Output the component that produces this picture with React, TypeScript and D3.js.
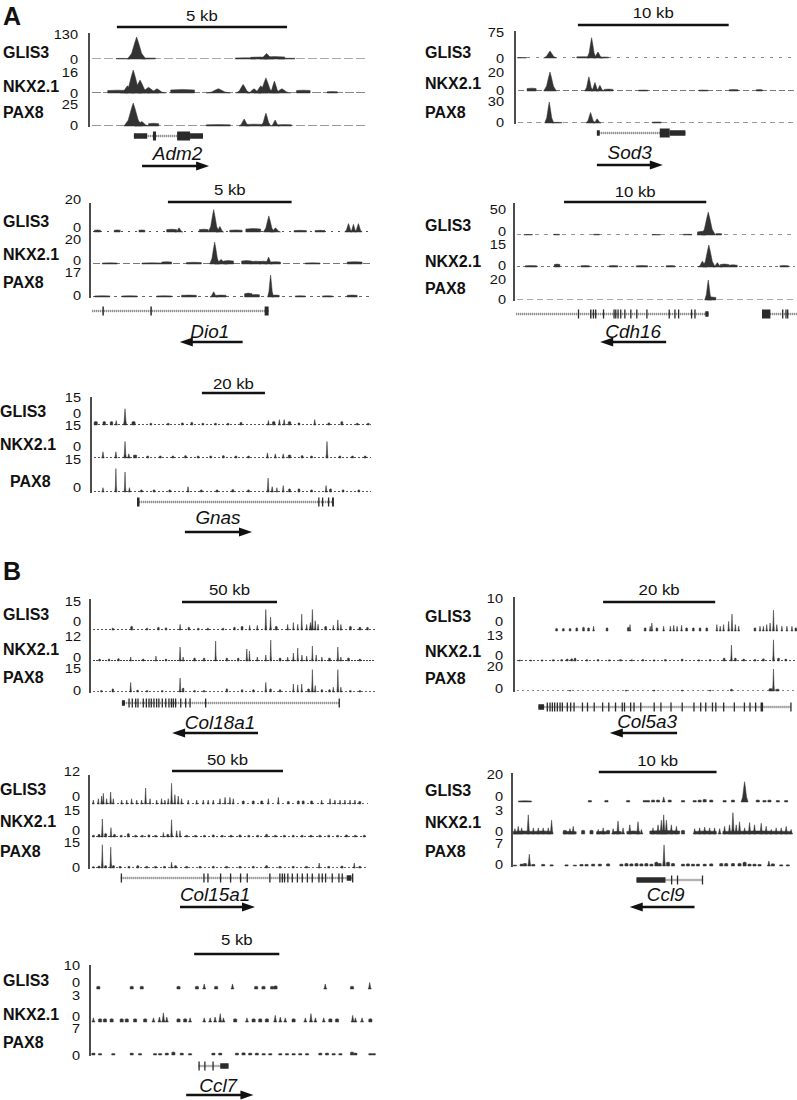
import React from "react";
import * as d3 from "d3";

type Peak = number[]; // [kb, value, halfWidthKb?]
type Exon = number[]; // [startKb, endKb, kind]

const TRACK_NAMES = ["GLIS3", "NKX2.1", "PAX8"];

// ---------------- Adm2 ----------------
const adm2Length = 8.2;
const adm2Max = [130, 16, 25];
const adm2Bar = [0.82, 5];
const adm2Glis3: Peak[] = [[1.0,3,0.2],[1.4,110,0.27],[1.75,5,0.2],[4.6,6,0.3],[5.0,10,0.25],[5.22,28,0.2],[5.45,12,0.3],[5.8,4,0.25]];
const adm2Nkx21: Peak[] = [[0.85,2,0.3],[1.13,5,0.2],[1.3,16,0.25],[1.5,9,0.25],[1.75,4,0.3],[2.0,3,0.25],[2.75,2.5,0.35],[3.8,3,0.35],[4.53,6,0.2],[4.85,3,0.2],[5.05,5,0.2],[5.2,10.5,0.22],[5.45,8.3,0.15],[5.67,3,0.25],[6.3,2,0.2],[7.15,1,0.15]];
const adm2Pax8: Peak[] = [[1.3,25,0.27],[1.55,5,0.2],[1.9,3,0.15],[3.8,1.5,0.35],[4.56,7.6,0.15],[4.85,2,0.25],[5.2,14,0.15],[5.47,6.5,0.12],[5.75,1.5,0.2]];
const adm2Gene = [1.32, 3.35];
const adm2Exons: Exon[] = [[1.32,1.71,1],[1.88,1.97,2],[2.59,2.97,2],[2.97,3.35,1]];
const adm2Arrow = [1.56, 3.53];
const adm2NameAt = 2.6;

// ---------------- Sod3 ----------------
const sod3Length = 18.7;
const sod3Max = [75, 20, 30];
const sod3Bar = [4.17, 10];
const sod3Glis3: Peak[] = [[0.46,1.5,0.3],[2.32,21,0.42],[4.5,4,0.4],[5.08,61,0.3],[5.5,18,0.3],[5.9,3,0.3]];
const sod3Nkx21: Peak[] = [[1.1,3,0.3],[2.32,20,0.42],[4.9,15,0.28],[5.3,9,0.25],[5.63,6,0.25],[6.2,2,0.3],[8.5,1,0.3],[12.5,1,0.3],[14.5,1.5,0.3],[16.2,1.5,0.2]];
const sod3Pax8: Peak[] = [[2.27,30,0.3],[2.8,1,0.3],[5.01,15,0.3],[5.45,6,0.25],[9.4,1.5,0.3]];
const sod3Gene = [5.43, 11.3];
const sod3Exons: Exon[] = [[5.43,5.62,1],[9.6,10.26,2],[10.26,11.3,1]];
const sod3Arrow = [5.43, 9.8];
const sod3NameAt = 7.6;

// ---------------- Dio1 ----------------
const dio1Length = 11.4;
const dio1Max = [20, 20, 17];
const dio1Bar = [3.15, 5];
const dio1Glis3: Peak[] = [[0.3,1.5,0.12],[1.1,1.5,0.12],[2.1,1.5,0.12],[3.3,2,0.2],[3.6,3,0.15],[4.6,2,0.18],[5.0,16,0.22],[5.25,4,0.15],[5.9,1.5,0.25],[6.6,2.5,0.3],[7.23,11.5,0.22],[7.5,3,0.2],[8.5,1.2,0.25],[9.3,1.2,0.2],[10.45,6,0.15],[10.65,5.5,0.12],[10.85,6,0.15]];
const dio1Nkx21: Peak[] = [[0.8,1,0.3],[2.5,1,0.4],[3.1,2,0.2],[4.2,1.5,0.3],[5.04,19,0.2],[5.3,4,0.25],[5.6,3,0.2],[6.33,3,0.2],[6.7,2.5,0.2],[7.0,2.5,0.15],[7.22,6,0.15],[7.5,2,0.2],[9.0,1,0.3],[10.7,2,0.3]];
const dio1Pax8: Peak[] = [[0.5,1,0.3],[1.6,1,0.3],[3.0,1,0.3],[4.0,1.5,0.3],[5.0,4,0.15],[5.3,1.5,0.2],[6.4,3,0.15],[6.7,2,0.15],[7.3,17,0.12],[7.5,1.5,0.15],[8.5,1,0.2],[9.6,1,0.2],[10.6,1.5,0.2]];
const dio1Gene = [0.08, 7.22];
const dio1Exons: Exon[] = [[0.5,0.56,2],[2.44,2.5,2],[7.06,7.22,2]];
const dio1Arrow = [6.17, 3.63];
const dio1NameAt = 4.84;

// ---------------- Cdh16 ----------------
const cdh16Length = 19.9;
const cdh16Max = [50, 15, 20];
const cdh16Bar = [3.52, 10];
const cdh16Glis3: Peak[] = [[1.0,1,0.3],[3.0,1.5,0.2],[5.8,1.5,0.2],[10.0,1,0.3],[12.2,1.5,0.3],[13.2,7,0.3],[13.66,44,0.5],[14.4,3,0.2]];
const cdh16Nkx21: Peak[] = [[1.2,1,0.4],[3.03,2,0.2],[5.0,1,0.3],[7.0,1,0.3],[9.0,1,0.4],[11.0,1,0.3],[13.25,4,0.3],[13.7,15,0.45],[14.3,3,0.3],[14.8,2,0.3],[15.4,1.5,0.3],[19.0,1,0.3]];
const cdh16Pax8: Peak[] = [[13.66,20,0.25],[13.9,3,0.3]];
const cdh16Gene = [0.14, 13.68];
const cdh16Exons: Exon[] = [[4.49,4.55,2],[5.35,5.45,2],[5.54,5.62,2],[5.7,5.76,2],[6.25,6.33,2],[6.99,7.07,2],[7.11,7.19,2],[7.27,7.35,2],[7.46,7.52,2],[7.75,7.8,2],[8.17,8.22,2],[8.59,8.67,2],[9.3,9.38,2],[10.87,10.93,2],[11.27,11.33,2],[11.53,11.6,2],[12.44,12.48,2],[12.68,12.72,2],[13.45,13.68,1]];
const cdh16Gene2 = [17.44, 19.9];
const cdh16Exons2: Exon[] = [[17.44,18.03,2],[18.85,18.93,2],[19.08,19.14,2],[19.2,19.26,2]];
const cdh16Arrow = [10.7, 6.06];
const cdh16NameAt = 8.38;

// ---------------- Gnas ----------------
const gnasLength = 89.5;
const gnasMax = [15, 15, 15];
const gnasBar = [35.2, 20];
const gnasGlis3: Peak[] = [[1.5,2,0.5],[4.2,2,0.4],[6.5,2,0.4],[8.0,2.5,0.4],[10.8,9,0.5],[13.5,2,0.5],[19,1,0.3],[24.5,1,0.3],[29,1.2,0.3],[32,1.5,0.3],[35.5,1,0.3],[39.5,1,0.3],[43.5,1,0.3],[47.6,1.5,0.3],[56.3,2.5,0.4],[58,2,0.4],[59.8,3,0.4],[61.3,3,0.4],[63,2,0.4],[66,1.2,0.3],[71,3,0.4],[75.5,1.2,0.3],[79.6,2,0.3],[84.5,1,0.3],[88,1,0.3]];
const gnasNkx21: Peak[] = [[3.8,3,0.4],[7.9,3,0.4],[10.8,8,0.4],[12,2,0.5],[14,1.5,0.5],[18,1,0.3],[22,1,0.3],[26,1,0.3],[30,1.2,0.3],[34,1,0.3],[38,1,0.3],[42,1.2,0.3],[46,1,0.3],[50,1,0.3],[56,2.5,0.4],[58.5,2,0.4],[61,2,0.4],[63,1.5,0.4],[67,1.2,0.3],[70,1,0.3],[74.9,8,0.35],[79,1,0.3],[83,1,0.3],[87,1,0.3]];
const gnasPax8: Peak[] = [[3.8,2,0.4],[7.9,11,0.3],[10.8,9.4,0.3],[12.2,2,0.4],[16,1,0.3],[20,1,0.3],[25,1,0.3],[30.8,2.5,0.35],[35,1,0.3],[40,1,0.3],[45,1.2,0.3],[50,1,0.3],[56.2,6.5,0.35],[57.5,2.5,0.4],[59,2,0.3],[61,3,0.35],[63,1.5,0.3],[66,1.5,0.3],[70,1,0.3],[74.6,3,0.35],[76,1.5,0.3],[80,1,0.3],[85,1,0.3]];
const gnasGene = [14.6, 77.1];
const gnasExons: Exon[] = [[14.6,15.4,2],[72.1,72.4,2],[73.3,73.6,2],[75.2,75.6,2],[76.5,77.1,2]];
const gnasArrow = [29.8, 51.1];
const gnasNameAt = 40.3;

// ---------------- Col18a1 ----------------
const col18Length = 151;
const col18Max = [15, 12, 15];
const col18Bar = [48.4, 50];
const col18Glis3: Peak[] = [[12,1,0.4],[21.9,2,0.5],[30,1,0.4],[36,1.5,0.4],[40,1.2,0.4],[47.4,3,0.5],[52,1.5,0.4],[57,1,0.4],[62,1,0.4],[70,1,0.4],[76,1.5,0.4],[80,2,0.5],[84,2.5,0.5],[88,2.5,0.5],[92.5,11,0.5],[95,7,0.5],[98,2,0.5],[104,3,0.5],[107,4,0.4],[109.3,3,0.4],[111.4,8.5,0.4],[114,3,0.5],[116,4,0.8],[117,11,0.5],[118.5,5,0.5],[120,3,0.5],[124,2,0.5],[128,2.5,0.5],[130.4,5.4,0.5],[132,3,0.5],[137,2,0.5],[142,1.5,0.5],[146,1.5,0.4]];
const col18Nkx21: Peak[] = [[5,1,0.4],[10,1,0.4],[15,1.2,0.4],[21.4,2,0.5],[28,1,0.4],[34.7,2.5,0.4],[40,1,0.4],[47.4,7,0.5],[49,2,0.5],[55,1.5,0.4],[60,1.5,0.4],[66.1,10,0.4],[72,1.5,0.4],[78,1.5,0.4],[82.5,6,0.5],[83.9,5,0.4],[88,2,0.5],[92.5,3,0.5],[95.1,10.5,0.4],[100,1.5,0.5],[104,2,0.5],[107,4,0.5],[109.3,6.5,0.4],[111.5,3,0.5],[114,2.5,0.5],[117,7.5,0.4],[119,3,0.5],[122,2,0.5],[126,1.5,0.5],[130.4,7,0.5],[132,2,0.5],[136,1.5,0.5],[142,1,0.4]];
const col18Pax8: Peak[] = [[6,1,0.4],[12,2,0.4],[21.4,6,0.5],[25,1.2,0.4],[30,1,0.4],[38,1,0.4],[47.4,8.7,0.5],[49,2.5,0.4],[55,1,0.4],[60,1,0.4],[72,2,0.4],[80,1.5,0.4],[86,1.5,0.4],[92.5,6,0.5],[95,2,0.4],[100,1.5,0.4],[107,5,0.4],[109.3,4.5,0.4],[111.4,5,0.4],[115,2,0.5],[117,14,0.5],[118.5,4,0.5],[122,1.5,0.4],[126,1.5,0.4],[128,3,0.5],[130.4,14,0.5],[132,3,0.5],[137,1,0.4],[142,1,0.4]];
const col18Gene = [16.8, 131];
const col18Exons: Exon[] = [[16.8,18.4,1],[20.2,20.4,2],[21.9,22.1,2],[23.7,23.9,2],[24.9,25.1,2],[27.7,27.9,2],[29.3,29.5,2],[30.7,30.9,2],[31.9,32.1,2],[33.3,33.5,2],[34.7,34.9,2],[35.9,36.1,2],[37.7,37.9,2],[39.5,39.7,2],[41.2,41.4,2],[42.5,42.7,2],[43.5,43.7,2],[44.7,44.9,2],[47.4,47.6,2],[50,50.2,2],[52.3,52.5,2],[60.5,60.7,2],[130.8,131,2]];
const col18Arrow = [88.4, 43.2];
const col18NameAt = 68.4;

// ---------------- Col5a3 ----------------
const col5Length = 50.5;
const col5Max = [10, 13, 20];
const col5Bar = [15.9, 20];
const col5Glis3: Peak[] = [[7.6,0.8],[8.8,0.8],[10,0.8],[11.2,1],[12.4,1.2],[13.3,1],[14.2,1.5],[16.6,1],[20.4,1.2],[20.7,2],[23.4,1],[24.3,1.5],[24.6,2.5],[25.5,1],[26.7,1.5],[27.9,1.5],[28.5,1.8],[29.1,1.5],[29.9,1.8],[30.8,1],[32,1],[33.2,1],[34.4,1],[36.2,2],[36.8,1.5],[37.4,2],[38.3,3],[38.9,5.3],[39.5,2],[40.1,1.5],[43,1],[43.9,1.5],[44.5,1.5],[45.1,2],[45.7,2.5],[46.3,6.5],[46.9,2],[47.8,1.5],[48.7,1.5],[49.6,1.5],[50.3,1]];
const col5Nkx21: Peak[] = [[1,0.5],[3,0.5],[5,0.6],[7,0.7],[8.5,0.8],[9.5,1],[10.3,1.2],[10.9,1.5],[13,0.7],[15,0.8],[17,0.6],[19,0.8],[21,0.6],[23,0.8],[25,0.6],[27,0.8],[30,1],[33,0.6],[35,0.8],[37.5,1.5],[38.8,8.3],[39.5,1.5],[41,1],[43,0.8],[44.5,1.2],[46.3,11],[47.2,1.5],[48.5,1]];
const col5Pax8: Peak[] = [[10,0.5],[20,0.6],[25,0.6],[30,0.6],[35,0.6],[38.8,1.5],[45.8,2,0.3],[46.3,17.6,0.18],[47,1.5,0.3]];
const col5Gene = [4.35, 49.4];
const col5Exons: Exon[] = [[4.35,5.36,1],[5.83,5.95,2],[6.31,6.43,2],[6.73,6.85,2],[7.14,7.26,2],[7.62,7.74,2],[8.1,8.22,2],[8.51,8.63,2],[9.4,9.52,2],[10,10.12,2],[10.6,10.72,2],[12.1,12.22,2],[13,13.12,2],[14.2,14.32,2],[15.7,15.82,2],[16.8,16.92,2],[18,18.12,2],[19.2,19.32,2],[19.6,19.72,2],[20.7,20.82,2],[21.3,21.42,2],[22.5,22.62,2],[24.9,25.02,2],[26.1,26.22,2],[27.9,28.02,2],[29.9,30.02,2],[32,32.12,2],[33.2,33.32,2],[34.1,34.22,2],[35.3,35.42,2],[35.9,36.02,2],[37.3,37.42,2],[39.2,39.32,2],[41,41.12,2],[42,42.12,2],[43,43.12,2],[44,44.45,2],[49.3,49.42,2]];
const col5Arrow = [29.1, 17.1];
const col5NameAt = 23.75;

// ---------------- Col15a1 ----------------
const col15Length = 126.6;
const col15Max = [12, 15, 15];
const col15Bar = [37.4, 50];
const col15Glis3: Peak[] = [[1.95,1.5],[4.2,2],[5.7,3],[6.45,4],[7.95,2],[9.75,4.5],[10.95,2],[14.7,1.5],[17,1.5],[19.2,2],[21.5,1.5],[23.7,1.5],[25.5,6],[27.5,2],[30.5,1.5],[32.7,2],[34.2,1.5],[35.7,2],[37.2,7.8],[38.7,3.5],[40.2,3],[41.7,2],[44.7,1.5],[48.5,1.5],[51.5,1.5],[53.7,1.5],[56,1.5],[59,2],[61.3,2.5],[63.5,2.5],[65,2],[69.5,1.2],[74,1.2],[77.8,1.2],[80.8,2],[85.3,2.5],[89.8,1],[94.3,1.2],[96.5,1.2],[100.3,1.2],[104.8,1.5],[108.6,2],[110.8,1.5],[113.1,1.5],[115.3,1.5],[117.6,1.5],[119.8,1.5],[122,1]];
const col15Nkx21: Peak[] = [[2,1],[4.5,1.5],[6,10],[7.5,2],[9.9,5.2],[11.5,1.5],[14.5,1],[17.7,2],[21,1],[24,1],[27,1.2],[30,1],[33.5,2.5],[35.5,1.5],[37.2,9.6],[39.5,3.5],[41,3.5],[44,1],[48,1],[52,1],[56,1.2],[60,1],[64,1],[68,1.2],[72,1],[76,1],[80,1.5],[84,1],[88,1],[92,1],[96,1],[100,1],[104,1],[108,1],[112,1],[116,1.2],[120,1],[124,1]];
const col15Pax8: Peak[] = [[2,0.8],[4.5,1.2],[6,14],[7.5,1.5],[9.8,12.5],[11,1.5],[14,1],[18,1],[22,1.5],[26,1],[30,1],[34,1],[37.2,3.5],[39,1.5],[44,1],[50,1],[56,1],[62,1],[68,1],[74,1],[80,1.5],[86,1],[92,1],[98,1],[103.7,3],[108,1],[114,1.2],[119.5,3],[122,1]];
const col15Gene = [14.3, 118.8];
const col15Exons: Exon[] = [[14.3,14.6,2],[51.5,51.8,2],[53.3,53.6,2],[59,59.3,2],[63.5,63.8,2],[68,68.3,2],[71,71.3,2],[81.2,81.5,2],[85.7,86,2],[86.8,87.1,2],[87.8,88.1,2],[89.3,89.6,2],[91.3,91.6,2],[93.6,93.9,2],[95.8,96.1,2],[98.1,98.4,2],[100.3,100.6,2],[103.3,103.6,2],[104.8,105.1,2],[106.3,106.6,2],[109.3,109.6,2],[112.3,112.6,2],[113.8,114.1,2],[116.1,118.2,1],[118.5,118.8,2]];
const col15Arrow = [41, 74.8];
const col15NameAt = 56.8;

// ---------------- Ccl9 ----------------
const ccl9Length = 24.2;
const ccl9Max = [20, 3, 7];
const ccl9Bar = [7.37, 10];
const ccl9Glis3: Peak[] = [[1.1,0.9,0.55],[6.61,1.2],[8.02,1.2],[9.86,1.2],[11.27,1.2],[11.55,1.2],[11.98,1.5],[12.4,1.5],[12.88,3.7],[13.39,1.5],[14.52,1.2],[15.51,1.2],[15.93,1.5],[16.36,2],[16.92,1.5],[18.05,1.2],[18.76,1.5],[19.75,15,0.3],[20.87,1.5],[21.44,1.2],[21.86,1.5],[22.57,1.2],[23.28,1.2]];
const ccl9Nkx21: Peak[] = [[0.96,0.4,0.85],[2.58,0.4,0.75],[4.9,0.35,0.55],[7.6,0.35,0.42],[8.94,0.35,0.35],[10.3,0.4,0.55],[12.97,0.45,1.27],[16.43,0.4,0.92],[20.8,0.4,2.9],[0.25,0.7],[0.53,1],[0.82,0.8],[1.38,2.5],[1.81,0.8],[2.23,0.8],[2.65,0.8],[3.08,0.8],[3.36,1.8],[4.49,0.5],[4.92,0.7],[5.2,1],[6.04,0.5],[6.75,0.5],[7.32,0.6],[7.74,0.8],[8.16,0.5],[8.59,0.7],[9.0,1.7],[9.43,0.8],[10,1.2],[10.7,1.6],[10.99,0.6],[11.97,0.8],[12.4,1.2],[12.68,1.8],[12.88,2.5],[13.11,1.8],[13.53,1.2],[13.96,1],[14.52,0.5],[15.51,0.7],[15.93,0.8],[16.36,0.9],[16.78,0.8],[17.2,0.8],[17.63,0.7],[18.05,1],[18.47,1.2],[18.76,2.8],[19.04,1.2],[19.32,1.6],[19.75,0.8],[20.17,1.5],[20.59,1.2],[21.16,1.4],[21.58,1],[22.01,0.6],[22.43,0.8],[22.86,0.8],[23.28,1],[23.7,0.6]];
const ccl9Pax8: Peak[] = [[0.25,0.3],[0.82,0.6],[1.1,0.8],[1.47,3.6],[1.81,0.5],[2.65,0.5],[3.36,0.4],[4.63,0.4],[5.34,0.3],[5.9,0.5],[6.33,0.5],[6.89,0.6],[7.46,0.6],[8.16,0.7],[9.29,0.6],[9.72,0.8],[10.14,0.7],[10.57,0.8],[10.99,0.7],[11.41,0.8],[11.84,0.6],[12.26,1.2],[12.54,0.8],[12.91,6.4,0.12],[13.25,1.2],[13.67,0.8],[14.52,0.6],[14.94,0.7],[15.37,0.6],[15.79,0.6],[16.36,0.6],[16.92,0.7],[17.77,0.8],[18.19,0.8],[18.76,0.8],[19.32,0.8],[19.75,1.2],[20.17,0.6],[20.59,0.6],[21.02,0.5],[21.81,1.5],[22.15,0.7],[22.86,0.4],[23.42,0.4]];
const ccl9Gene = [10.57, 16.2];
const ccl9Exons: Exon[] = [[10.57,13.03,1],[13.5,13.58,2],[14.0,14.08,2],[16.12,16.2,2]];
const ccl9Arrow = [15.5, 10.0];
const ccl9NameAt = 13.05;

// ---------------- Ccl7 ----------------
const ccl7Length = 16.8;
const ccl7Max = [10, 3, 7];
const ccl7Bar = [6.12, 5];
const ccl7Glis3: Peak[] = [[0.49,1.2],[2.45,1.2],[3.04,1.2],[5.2,1.2],[6.28,1.2],[6.71,2.2],[7.41,1.2],[8.37,2.2],[9.76,1.2],[10.19,1.2],[10.7,1.2],[10.9,1.4],[13.82,2.2],[15.39,1.2],[16.43,2.8]];
const ccl7Nkx21: Peak[] = [[0.2,0.5],[0.59,0.4],[0.88,0.4],[1.27,0.4],[1.86,0.4],[2.16,0.4],[2.65,0.4],[3.24,0.4],[3.73,0.5],[4.08,0.6],[4.31,1.1],[4.51,0.6],[5.2,0.4],[5.59,0.4],[5.88,0.5],[6.71,0.5],[7.06,0.5],[7.35,0.6],[7.65,1],[7.84,0.5],[8.53,0.4],[9.22,0.5],[9.61,0.4],[10,0.4],[10.39,0.4],[10.88,0.8],[11.18,0.6],[11.47,0.5],[11.96,0.4],[12.65,0.5],[12.98,1],[13.24,0.5],[13.73,0.5],[14.12,0.4],[14.51,0.4],[15.43,0.8],[15.59,0.5],[15.98,0.5],[16.47,0.4]];
const ccl7Pax8: Peak[] = [[0.2,0.5],[0.59,0.4],[1.37,0.4],[2.45,0.5],[2.94,0.4],[3.82,0.4],[4.12,0.4],[4.51,0.5],[4.9,0.8],[5.39,0.5],[5.88,0.4],[7.25,0.5],[7.65,0.5],[8.63,0.5],[9.02,0.6],[9.41,0.5],[9.8,0.5],[10.2,0.4],[10.59,0.4],[11.18,0.4],[11.57,0.4],[11.96,0.4],[12.35,0.4],[12.75,0.4],[13.53,0.5],[13.92,0.5],[14.31,0.4],[14.71,0.4],[15.39,0.8],[15.59,0.5],[16.47,0.4],[16.67,0.4]];
const ccl7Gene = [6.37, 8.14];
const ccl7Exons: Exon[] = [[6.37,6.43,2],[6.71,6.77,2],[7.19,7.25,2],[7.65,8.14,1]];
const ccl7Arrow = [5.65, 9.6];
const ccl7NameAt = 7.53;

// ---------------- panel table (built from the arrays above) ----------------
const PANELS = [
  { gene: "Adm2", len: adm2Length, max: adm2Max, bar: adm2Bar, tracks: [adm2Glis3, adm2Nkx21, adm2Pax8], span: adm2Gene, exons: adm2Exons, arrow: adm2Arrow, nameAt: adm2NameAt },
  { gene: "Sod3", len: sod3Length, max: sod3Max, bar: sod3Bar, tracks: [sod3Glis3, sod3Nkx21, sod3Pax8], span: sod3Gene, exons: sod3Exons, arrow: sod3Arrow, nameAt: sod3NameAt },
  { gene: "Dio1", len: dio1Length, max: dio1Max, bar: dio1Bar, tracks: [dio1Glis3, dio1Nkx21, dio1Pax8], span: dio1Gene, exons: dio1Exons, arrow: dio1Arrow, nameAt: dio1NameAt },
  { gene: "Cdh16", len: cdh16Length, max: cdh16Max, bar: cdh16Bar, tracks: [cdh16Glis3, cdh16Nkx21, cdh16Pax8], span: cdh16Gene, exons: cdh16Exons, span2: cdh16Gene2, exons2: cdh16Exons2, arrow: cdh16Arrow, nameAt: cdh16NameAt },
  { gene: "Gnas", len: gnasLength, max: gnasMax, bar: gnasBar, tracks: [gnasGlis3, gnasNkx21, gnasPax8], span: gnasGene, exons: gnasExons, arrow: gnasArrow, nameAt: gnasNameAt },
  { gene: "Col18a1", len: col18Length, max: col18Max, bar: col18Bar, tracks: [col18Glis3, col18Nkx21, col18Pax8], span: col18Gene, exons: col18Exons, arrow: col18Arrow, nameAt: col18NameAt },
  { gene: "Col5a3", len: col5Length, max: col5Max, bar: col5Bar, tracks: [col5Glis3, col5Nkx21, col5Pax8], span: col5Gene, exons: col5Exons, arrow: col5Arrow, nameAt: col5NameAt },
  { gene: "Col15a1", len: col15Length, max: col15Max, bar: col15Bar, tracks: [col15Glis3, col15Nkx21, col15Pax8], span: col15Gene, exons: col15Exons, arrow: col15Arrow, nameAt: col15NameAt },
  { gene: "Ccl9", len: ccl9Length, max: ccl9Max, bar: ccl9Bar, tracks: [ccl9Glis3, ccl9Nkx21, ccl9Pax8], span: ccl9Gene, exons: ccl9Exons, arrow: ccl9Arrow, nameAt: ccl9NameAt },
  { gene: "Ccl7", len: ccl7Length, max: ccl7Max, bar: ccl7Bar, tracks: [ccl7Glis3, ccl7Nkx21, ccl7Pax8], span: ccl7Gene, exons: ccl7Exons, arrow: ccl7Arrow, nameAt: ccl7NameAt },
];

// ---------------- layout (pixels) ----------------
const LAYOUT = [
  { x0: 89, x1: 368, axisTop: 33, base: [59, 93, 126], top: [33, 70, 103], tickY: [[35, 59.5], [73, 93.5], [105, 126]], labelY: [52.5, 86, 112], labelX: [3, 3, 3], tickX: 78, barY: 27, barTextY: 21, geneY: 136, nameY: 160, arrowY: 166, hw: 1, dash: ["9 3", "9 2", "9 3"], dashColor: ["#aaa", "#888", "#999"] },
  { x0: 515, x1: 797, axisTop: 31, base: [58, 91, 123], top: [33, 72, 102], tickY: [[33, 59], [73, 90.5], [102, 123]], labelY: [52, 83, 112], labelX: [425, 425, 425], tickX: 504, barY: 25, barTextY: 18, geneY: 133, nameY: 159, arrowY: 165, hw: 1, dash: ["3 6", "6 3", "5 4"], dashColor: ["#888", "#777", "#999"] },
  { x0: 90, x1: 372, axisTop: 203, base: [232, 264, 297], top: [204, 241, 275], tickY: [[199.5, 227.5], [239.5, 260.5], [272.5, 296]], labelY: [221, 254, 282], labelX: [3, 3, 3], tickX: 81, barY: 202, barTextY: 195, geneY: 311, nameY: 338, arrowY: 342, hw: 1, dash: ["2 5", "7 3", "3 4"], dashColor: ["#555", "#777", "#666"] },
  { x0: 514, x1: 797, axisTop: 203, base: [235, 267, 300], top: [209, 245, 280], tickY: [[209.5, 232], [245, 266], [280, 299.5]], labelY: [225, 261, 288], labelX: [425, 425, 425], tickX: 506, barY: 202, barTextY: 197, geneY: 314, nameY: 338, arrowY: 342, hw: 1, dash: ["4 5", "3 3", "6 4"], dashColor: ["#999", "#777", "#aaa"] },
  { x0: 91, x1: 373, axisTop: 397, base: [425, 458, 492], top: [398, 427, 460], tickY: [[398, 414], [426, 447], [460, 488]], labelY: [411, 444, 481], labelX: [0, 0, 10], tickX: 81, barY: 393, barTextY: 389, geneY: 502, nameY: 524, arrowY: 532, hw: 1, dash: ["2 2", "2 2", "2 2"], dashColor: ["#555", "#555", "#555"] },
  { x0: 90, x1: 377, axisTop: 599, base: [630, 661, 692], top: [602, 637, 668], tickY: [[602, 622], [637, 657.5], [668.5, 690.5]], labelY: [614, 649, 677.5], labelX: [3, 3, 3], tickX: 81, barY: 602, barTextY: 595, geneY: 703, nameY: 729, arrowY: 733, hw: 1, dash: ["2 2", "2 1", "2 2"], dashColor: ["#555", "#444", "#666"] },
  { x0: 514, x1: 797, axisTop: 597, base: [631, 661, 691], top: [599, 636, 666], tickY: [[599, 621.5], [636, 656], [666.5, 689]], labelY: [616, 651, 678.5], labelX: [425, 425, 425], tickX: 503, barY: 602, barTextY: 595, geneY: 707, nameY: 728, arrowY: 733, hw: 0.9, dash: ["", "2 2", "2 3"], dashColor: ["#555", "#555", "#888"] },
  { x0: 89, x1: 370, axisTop: 775, base: [804, 837, 868], top: [772, 810, 843], tickY: [[772, 796.5], [810.5, 830.5], [842.5, 868]], labelY: [789, 821, 851], labelX: [0, 0, 0], tickX: 80, barY: 771, barTextY: 765, geneY: 878, nameY: 901, arrowY: 907, hw: 1, dash: ["2 3", "2 2", "2 2"], dashColor: ["#666", "#555", "#666"] },
  { x0: 512, x1: 797, axisTop: 773, base: [802, 834, 866], top: [775, 811, 843], tickY: [[775, 796.5], [811, 831.5], [843.5, 865]], labelY: [790.5, 822.5, 851], labelX: [425, 425, 425], tickX: 503, barY: 772, barTextY: 766, geneY: 880, nameY: 901, arrowY: 907, hw: 1.6, dash: ["", "", ""], dashColor: ["#555", "#555", "#555"] },
  { x0: 90, x1: 376, axisTop: 965, base: [989, 1022, 1055], top: [966, 997, 1028], tickY: [[966, 982.5], [996, 1016.5], [1028.5, 1056]], labelY: [980.5, 1014, 1042.5], labelX: [3, 3, 3], tickX: 80, barY: 954, barTextY: 945, geneY: 1066, nameY: 1092, arrowY: 1095, hw: 1.6, dash: ["", "", ""], dashColor: ["#555", "#555", "#555"] },
];

const FONT = "'Liberation Sans', Arial, Helvetica, sans-serif";
const INK = "#111";
const PEAK = "#333";

function Txt(props: any) {
  const { x, y, sx = 1, anchor = "start", size, weight = "normal", italic = false, baseline = "auto", children } = props;
  return (
    <text
      transform={`translate(${x},${y}) scale(${sx},1)`}
      textAnchor={anchor}
      fontSize={size}
      fontWeight={weight}
      fontStyle={italic ? "italic" : "normal"}
      dominantBaseline={baseline}
      fontFamily={FONT}
      fill={INK}
    >
      {children}
    </text>
  );
}

function peakPath(x: any, y: any, p: Peak, defHwPx: number) {
  const cx = x(p[0]);
  const hwPx = p.length > 2 ? Math.max(x(p[0] + p[2]) - cx, 0.8) : defHwPx;
  const v = p[1];
  const hPx = y(0) - y(v);
  let pts: [number, number][];
  if (hPx < 4) {
    // low coverage: a small flat block
    pts = [
      [cx - hwPx, 0],
      [cx - hwPx, v * 0.85],
      [cx, v],
      [cx + hwPx, v * 0.85],
      [cx + hwPx, 0],
    ];
  } else {
    pts = [
      [cx - hwPx, 0],
      [cx - hwPx * 0.55, v * 0.25],
      [cx - hwPx * 0.2, v * 0.75],
      [cx, v],
      [cx + hwPx * 0.2, v * 0.75],
      [cx + hwPx * 0.55, v * 0.25],
      [cx + hwPx, 0],
    ];
  }
  const area = d3
    .area<[number, number]>()
    .x((d) => d[0])
    .y0(y(0))
    .y1((d) => y(d[1]));
  return area(pts) || "";
}

function GeneModel({ x, y, span, exons }: any) {
  const x0 = x(span[0]);
  const x1 = x(span[1]);
  return (
    <g>
      <line x1={x0} x2={x1} y1={y} y2={y} stroke="#999" strokeWidth={2.6} strokeDasharray="1 1" />
      <line x1={x0} x2={x1} y1={y} y2={y} stroke="#777" strokeWidth={0.6} />
      {exons.map((e: Exon, i: number) => {
        const a = x(e[0]);
        const w = Math.max(x(e[1]) - a, 1.3);
        const h = e[2] === 2 ? 9 : 5.5;
        return <rect key={i} x={a} y={y - h / 2} width={w} height={h} fill="#2a2a2a" />;
      })}
    </g>
  );
}

function Panel({ p, L }: any) {
  const x = d3.scaleLinear().domain([0, p.len]).range([L.x0, L.x1]);
  const barX0 = x(p.bar[0]);
  const barX1 = x(p.bar[0] + p.bar[1]);
  const dir = p.arrow[1] > p.arrow[0] ? 1 : -1;
  const ax0 = x(p.arrow[0]);
  const ax1 = x(p.arrow[1]);
  return (
    <g>
      <line x1={barX0} x2={barX1} y1={L.barY} y2={L.barY} stroke={INK} strokeWidth={2.6} />
      <Txt x={(barX0 + barX1) / 2} y={L.barTextY} anchor="middle" size={15} sx={1.12}>
        {`${p.bar[1]} kb`}
      </Txt>
      <line x1={L.x0} x2={L.x0} y1={L.axisTop} y2={L.base[2] + 1} stroke={INK} strokeWidth={1.5} />
      {TRACK_NAMES.map((name, i) => {
        const y = d3.scaleLinear().domain([0, p.max[i]]).range([L.base[i], L.top[i]]);
        return (
          <g key={name}>
            <Txt x={L.labelX[i]} y={L.labelY[i]} size={16} weight="bold" baseline="central">
              {name}
            </Txt>
            <Txt x={L.tickX} y={L.tickY[i][0]} size={13} sx={1.12} anchor="end" baseline="central">
              {String(p.max[i])}
            </Txt>
            <Txt x={L.tickX} y={L.tickY[i][1]} size={13} sx={1.12} anchor="end" baseline="central">
              0
            </Txt>
            {L.dash[i] !== "" && (
              <line
                x1={L.x0 + 3}
                x2={L.x1 - 2}
                y1={L.base[i] - 0.5}
                y2={L.base[i] - 0.5}
                stroke={L.dashColor[i]}
                strokeWidth={1.1}
                strokeDasharray={L.dash[i]}
              />
            )}
            {p.tracks[i].map((pk: Peak, j: number) => (
              <path key={j} d={peakPath(x, y, pk, L.hw)} fill={PEAK} stroke={PEAK} strokeWidth={0.5} strokeLinejoin="round" />
            ))}
          </g>
        );
      })}
      <GeneModel x={x} y={L.geneY} span={p.span} exons={p.exons} />
      {p.span2 && <GeneModel x={x} y={L.geneY} span={p.span2} exons={p.exons2} />}
      <Txt x={x(p.nameAt)} y={L.nameY} anchor="middle" size={18} sx={1.05} italic>
        {p.gene}
      </Txt>
      <line x1={ax0} x2={ax1 - dir * 9} y1={L.arrowY} y2={L.arrowY} stroke={INK} strokeWidth={2.6} />
      <polygon
        points={`${ax1},${L.arrowY} ${ax1 - dir * 13},${L.arrowY - 4.5} ${ax1 - dir * 13},${L.arrowY + 4.5}`}
        fill={INK}
      />
    </g>
  );
}

export default function App() {
  return (
    <svg
      width={797}
      height={1100}
      viewBox="0 0 797 1100"
      style={{ position: "absolute", left: 0, top: 0, display: "block", background: "#fff" }}
    >
      <rect x={0} y={0} width={797} height={1100} fill="#fff" />
      <Txt x={3} y={25} size={25} weight="bold">A</Txt>
      <Txt x={3} y={580} size={25} weight="bold">B</Txt>
      {PANELS.map((p, i) => (
        <Panel key={p.gene} p={p} L={LAYOUT[i]} />
      ))}
    </svg>
  );
}
